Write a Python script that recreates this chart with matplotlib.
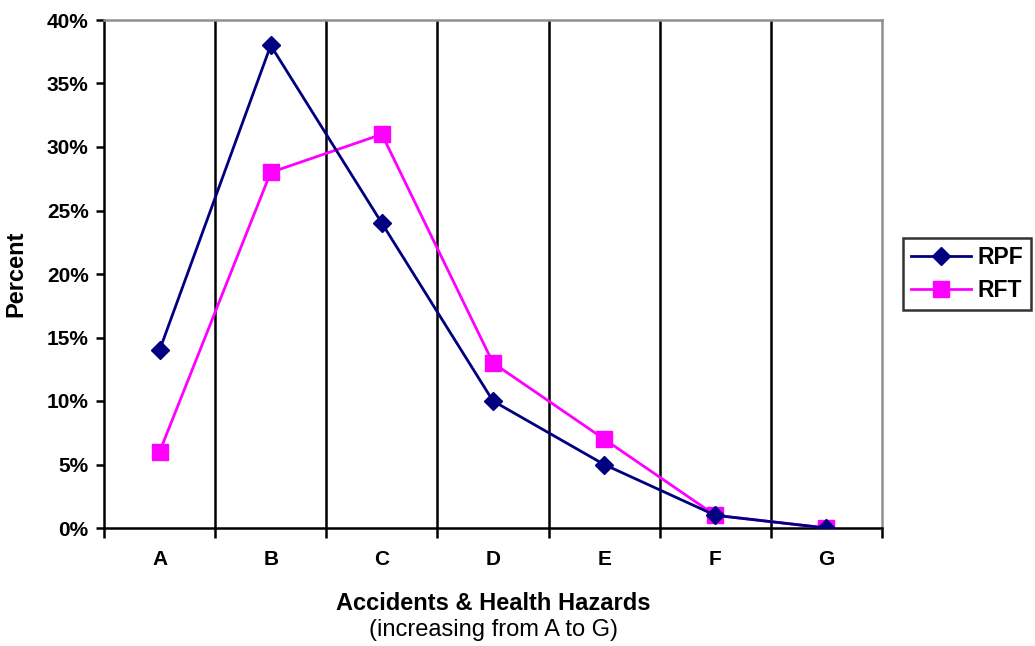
import matplotlib
matplotlib.use('Agg')
import matplotlib.pyplot as plt
from matplotlib.ticker import FuncFormatter

categories = ['A', 'B', 'C', 'D', 'E', 'F', 'G']
rpf = [14, 38, 24, 10, 5, 1, 0]
rft = [6, 28, 31, 13, 7, 1, 0]

plt.rcParams['font.family'] = ['Liberation Sans', 'DejaVu Sans']

fig = plt.figure(figsize=(10.35, 6.46), dpi=100)
ax = fig.add_axes([104 / 1035, 118 / 646, 778 / 1035, 508 / 646])

x = list(range(len(categories)))
ax.plot(x, rpf, color='#000080', lw=2.0, marker='D', ms=9, label='RPF', zorder=4)
ax.plot(x, rft, color='#FF00FF', lw=2.0, marker='s', ms=12, label='RFT', zorder=3)

# category separators
for b in range(len(categories) - 1):
    ax.axvline(b + 0.5, color='black', lw=1.8, zorder=1)

ax.set_xlim(-0.5, len(categories) - 0.5)
ax.set_ylim(0, 40)
ax.set_yticks(range(0, 41, 5))
ax.yaxis.set_major_formatter(FuncFormatter(lambda v, p: f'{v:.0f}%'))
ax.set_xticks([b - 0.5 for b in range(len(categories) + 1)])
ax.set_xticklabels([])
ax.set_xticks(x, minor=True)
ax.set_xticklabels(categories, minor=True)
ax.tick_params(axis='x', which='minor', length=0, pad=16)
ax.tick_params(axis='x', which='major', length=7, width=1.8, direction='out')
ax.tick_params(axis='y', length=6, width=1.8, direction='out', pad=5)
for lab in ax.get_yticklabels() + ax.get_xticklabels(minor=True):
    lab.set_fontweight('bold')
    lab.set_fontsize(15)

ax.spines['left'].set_linewidth(1.8)
ax.spines['bottom'].set_linewidth(1.8)
for s in ('top', 'right'):
    ax.spines[s].set_color('#909090')
    ax.spines[s].set_linewidth(1.8)

ax.set_ylabel('Percent', fontsize=17, fontweight='bold')
ax.yaxis.set_label_coords(-0.099, 0.5)
fig.text(ax.get_position().x0 + ax.get_position().width / 2, 1 - 604 / 646,
         'Accidents & Health Hazards', ha='center', va='center',
         fontsize=17, fontweight='bold')
fig.text(ax.get_position().x0 + ax.get_position().width / 2, 1 - 630 / 646,
         '(increasing from A to G)', ha='center', va='center', fontsize=17)

leg = ax.legend(loc='center left', bbox_to_anchor=(903 / 1035, 1 - 274 / 646),
                bbox_transform=fig.transFigure, frameon=True, fancybox=False,
                edgecolor='black', prop={'weight': 'bold', 'size': 16.5},
                handlelength=2.6, handletextpad=0.3, borderpad=0.35,
                labelspacing=0.45, borderaxespad=0)
leg.get_frame().set_linewidth(1.8)

fig.savefig('out.png', dpi=100)
